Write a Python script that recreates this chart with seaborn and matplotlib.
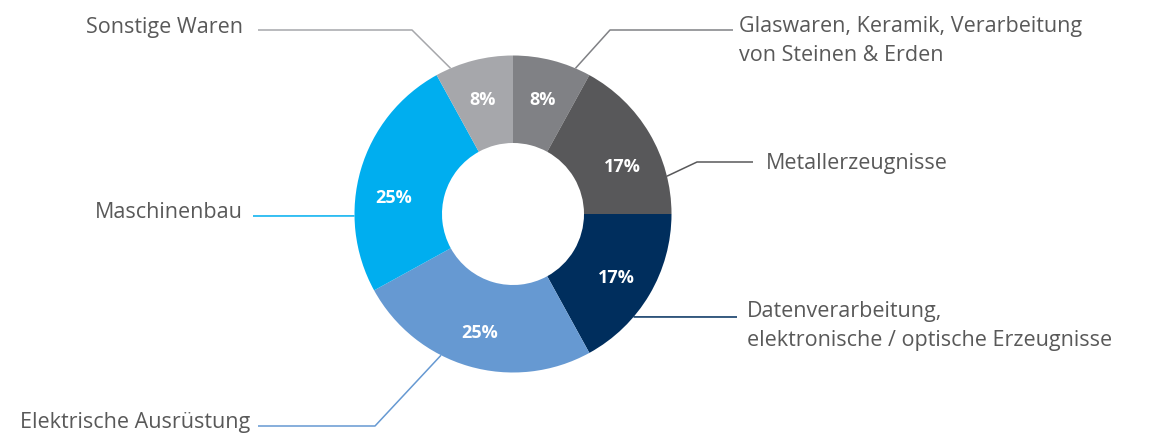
import numpy as np
import matplotlib
matplotlib.use("Agg")
import matplotlib.pyplot as plt
import seaborn as sns

# Shares by product group (percent)
categories = [
    "Glaswaren, Keramik, Verarbeitung\nvon Steinen & Erden",
    "Metallerzeugnisse",
    "Datenverarbeitung,\nelektronische / optische Erzeugnisse",
    "Elektrische Ausrüstung",
    "Maschinenbau",
    "Sonstige Waren",
]
shares = [8, 17, 17, 25, 25, 8]
slice_colors = ["#808185", "#58585a", "#002e5d", "#6699d2", "#00aeef", "#a6a7ab"]

sns.set_theme(style="white")
plt.rcParams["font.family"] = ["Open Sans", "DejaVu Sans"]
palette = sns.color_palette(slice_colors)

W, H = 1168, 435
fig = plt.figure(figsize=(W / 100, H / 100), dpi=100)
ax = fig.add_axes([0, 0, 1, 1])

cx, cy = 513, H - 215          # donut centre in axis units (y measured upward)
r_out, r_in = 158.5, 71

wedges, _, pct_texts = ax.pie(
    shares,
    colors=palette,
    startangle=90,
    counterclock=False,
    center=(cx, cy),
    radius=r_out,
    wedgeprops=dict(width=r_out - r_in, linewidth=0),
    autopct=lambda p: f"{p:.0f}%",
    pctdistance=0.76,
    textprops=dict(color="white", fontsize=13, fontweight="bold"),
)

# Small angular nudges for the percentage labels (degrees, counter-clockwise)
pct_nudge = [0, -6, 0, 0, 7, 0]
for w, t, d in zip(wedges, pct_texts, pct_nudge):
    mid = np.deg2rad((w.theta1 + w.theta2) / 2 + d)
    rr = 0.76 * r_out
    t.set_position((cx + rr * np.cos(mid), cy + rr * np.sin(mid) - 2))

ax.set_xlim(0, W)
ax.set_ylim(0, H)
ax.set_aspect("equal")
ax.axis("off")

def up(py):
    return H - py

# Leader lines: anchor angle on the outer rim, elbow point, end point, label anchor
leaders = [
    (66.8, (610, 31), (733, 31), "left", (739, 41)),
    (13.8, (697, 163), (753, 163), "left", (766, 164)),
    (-40.5, None, (737, 318), "left", (747, 326)),
    (-117.0, (375, 427), (258, 427), "right", (250, 423)),
    (180.7, None, (253, 217), "right", (243, 213)),
    (113.2, (412, 31), (258, 31), "right", (243, 27)),
]

text_color = "#595959"
for (ang, elbow, end, ha, tpos), label, col in zip(leaders, categories, palette):
    a = np.deg2rad(ang)
    sx, sy = cx + r_out * np.cos(a), cy + r_out * np.sin(a)
    xs, ys = [sx], [sy]
    if elbow is not None:
        xs.append(elbow[0]); ys.append(up(elbow[1]))
    xs.append(end[0]); ys.append(up(end[1]))
    ax.plot(xs, ys, color=col, lw=1.1, solid_capstyle="butt")
    ax.text(tpos[0], up(tpos[1]), label, ha=ha, va="center", fontsize=15.5,
            color=text_color, linespacing=1.55)

fig.savefig("out.png", dpi=100)
